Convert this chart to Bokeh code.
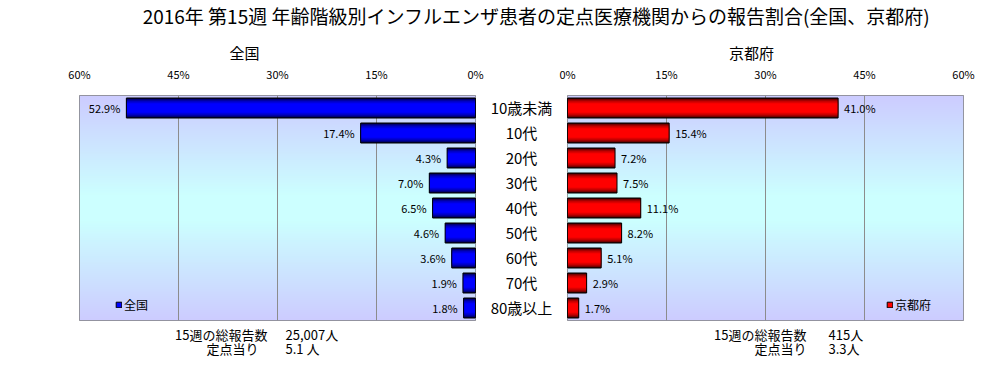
import numpy as np
from bokeh.plotting import figure
from bokeh.layouts import column, row
from bokeh.models import (Range1d, FactorRange, Label, Legend, LegendItem,
                          FixedTicker, ColumnDataSource)
from bokeh.core.properties import value
from bokeh.embed import file_html
from bokeh.resources import INLINE

# ---------------- data ----------------
title_text = "2016年 第15週 年齢階級別インフルエンザ患者の定点医療機関からの報告割合(全国、京都府)"
categories = ["10歳未満", "10代", "20代", "30代", "40代", "50代", "60代", "70代", "80歳以上"]
national = [52.9, 17.4, 4.3, 7.0, 6.5, 4.6, 3.6, 1.9, 1.8]
kyoto = [41.0, 15.4, 7.2, 7.5, 11.1, 8.2, 5.1, 2.9, 1.7]
ticks = [0, 15, 30, 45, 60]
tick_labels = ["0%", "15%", "30%", "45%", "60%"]
panel_names = ["全国", "京都府"]
footer_keys = ["15週の総報告数", "定点当り"]
footer_national = ["25,007人", "5.1 人"]
footer_kyoto = ["415人", "3.3人"]

FONT = "Noto Sans CJK JP"
TOTAL_W, TOTAL_H = 990, 357
HEADER_H = 62
FRAME_W, FRAME_H = 396, 225
TOP, BOTTOM = 32, 2
ROW_H = TOP + FRAME_H + BOTTOM
FOOTER_H = TOTAL_H - HEADER_H - ROW_H

factors = list(reversed(categories))


def gradient_image():
    n, m = 225, 8
    t = np.abs(np.arange(n) - (n - 1) / 2) / ((n - 1) / 2)
    w = np.clip((t - 0.12) / 0.88, 0, 1)
    edge = np.array([204, 204, 255])
    mid = np.array([204, 255, 255])
    cols = (mid[None, :] * (1 - w[:, None]) + edge[None, :] * w[:, None]).astype(np.uint8)
    img = np.empty((n, m), dtype=np.uint32)
    v = img.view(dtype=np.uint8).reshape((n, m, 4))
    v[:, :, 0] = cols[:, 0][:, None]
    v[:, :, 1] = cols[:, 1][:, None]
    v[:, :, 2] = cols[:, 2][:, None]
    v[:, :, 3] = 255
    return img


def make_panel(vals, reverse, shades, legend_color, name, border_left, border_right):
    xr = Range1d(60, 0) if reverse else Range1d(0, 60)
    p = figure(frame_width=FRAME_W, frame_height=FRAME_H,
               x_range=xr, y_range=FactorRange(*factors),
               x_axis_location="above", y_axis_location=None,
               min_border_left=border_left, min_border_right=border_right,
               min_border_top=TOP, min_border_bottom=BOTTOM,
               output_backend="svg", toolbar_location=None)
    p.outline_line_color = "#808080"
    p.outline_line_width = 1
    p.background_fill_color = "#ccccff"
    p.border_fill_color = "white"
    p.image_rgba(image=[gradient_image()], x=0, y=0, dw=60, dh=len(categories), level="image")

    p.xgrid.ticker = FixedTicker(ticks=ticks[1:-1])
    p.xgrid.grid_line_color = "#8c8c8c"
    p.xgrid.grid_line_width = 1
    p.ygrid.grid_line_color = None

    ax = p.xaxis[0]
    ax.ticker = FixedTicker(ticks=ticks)
    ax.major_label_overrides = dict(zip(ticks, tick_labels))
    ax.axis_line_color = None
    ax.major_tick_line_color = None
    ax.minor_tick_line_color = None
    ax.major_label_standoff = 8
    ax.major_label_text_font = FONT
    ax.major_label_text_font_size = "11px"
    ax.major_label_text_color = "black"

    src = ColumnDataSource(dict(cat=categories, v=vals, lab=[f"{x:.1f}%" for x in vals]))
    for h, c in shades:
        p.hbar(y="cat", left=0, right="v", height=h, source=src,
               fill_color=c, line_color=None)
    p.hbar(y="cat", left=0, right="v", height=0.8, source=src,
           fill_color=None, line_color="black", line_width=1)

    p.text(x="v", y="cat", text="lab", source=src,
           x_offset=-6 if reverse else 6,
           text_align="right" if reverse else "left", text_baseline="middle",
           text_font=value(FONT), text_font_size="11px", text_color="black")

    # zero-width bars at the axis base, used only as the legend swatch
    swatch = p.hbar(y="cat", left=0, right=0, height=0.8, source=src,
                    fill_color=legend_color, line_color="black")
    leg = Legend(items=[LegendItem(label=name, renderers=[swatch])],
                 location=(36, 7) if reverse else (319, 7),
                 orientation="horizontal", padding=0, margin=0, spacing=0,
                 glyph_width=7, glyph_height=7, label_standoff=2,
                 label_text_font=FONT, label_text_font_size="12px",
                 label_text_color="black",
                 label_height=12, border_line_color=None,
                 background_fill_alpha=0)
    p.add_layout(leg, "center")
    return p


blue_shades = [(0.8, "#00003c"), (0.72, "#000078"), (0.62, "#0000b0"),
               (0.52, "#0000dc"), (0.38, "#0000ff")]
red_shades = [(0.8, "#3c0000"), (0.72, "#780000"), (0.62, "#b00000"),
              (0.52, "#dc0000"), (0.38, "#ff0000")]

left = make_panel(national, True, blue_shades, "#0000ff", panel_names[0], 79, 10)
MID_W = 72
right_border = TOTAL_W - (79 + FRAME_W + 10) - MID_W - 10 - FRAME_W
right = make_panel(kyoto, False, red_shades, "#ff0000", panel_names[1], 10, right_border)


def blank(width, height):
    f = figure(width=width, height=height, x_range=Range1d(0, 1), y_range=Range1d(0, 1),
               x_axis_location=None, y_axis_location=None,
               min_border_left=0, min_border_right=0, min_border_top=0, min_border_bottom=0,
               output_backend="svg", toolbar_location=None)
    f.outline_line_color = None
    f.xgrid.grid_line_color = None
    f.ygrid.grid_line_color = None
    return f


def lab(f, x, y, text, size, align="center"):
    f.add_layout(Label(x=x, y=y, x_units="screen", y_units="screen", text=text,
                       text_align=align, text_baseline="middle", text_color="black",
                       text_font=FONT, text_font_size=size))


# middle category labels
mid = figure(width=MID_W, height=ROW_H, x_range=Range1d(0, 1), y_range=FactorRange(*factors),
             x_axis_location=None, y_axis_location=None,
             min_border_left=0, min_border_right=0, min_border_top=TOP, min_border_bottom=BOTTOM,
             output_backend="svg", toolbar_location=None)
mid.outline_line_color = None
mid.xgrid.grid_line_color = None
mid.ygrid.grid_line_color = None
mid.text(x=0.5, y=categories, text=categories, text_align="center", text_baseline="middle",
         text_font=value(FONT), text_font_size="15px", text_color="black")

# header: main title + panel titles
header = blank(TOTAL_W, HEADER_H)
lab(header, 536, HEADER_H - 15, title_text, "19px")
lab(header, 244, HEADER_H - 52, panel_names[0], "15px")
lab(header, 751, HEADER_H - 52, panel_names[1], "15px")

# footer: report totals (y measured from the footer's bottom edge)
footer = blank(TOTAL_W, FOOTER_H)
ys = [24, 10]
for k, v, y, kx in zip(footer_keys, footer_national, ys, [267, 258]):
    lab(footer, kx, y, k, "13px", "right")
    lab(footer, 285, y, v, "13px", "left")
for k, v, y in zip(footer_keys, footer_kyoto, ys):
    lab(footer, 806, y, k, "13px", "right")
    lab(footer, 828, y, v, "13px", "left")

layout = column(header, row(left, mid, right, spacing=0), footer, spacing=0)
open("out.html", "w").write(file_html(layout, INLINE))
